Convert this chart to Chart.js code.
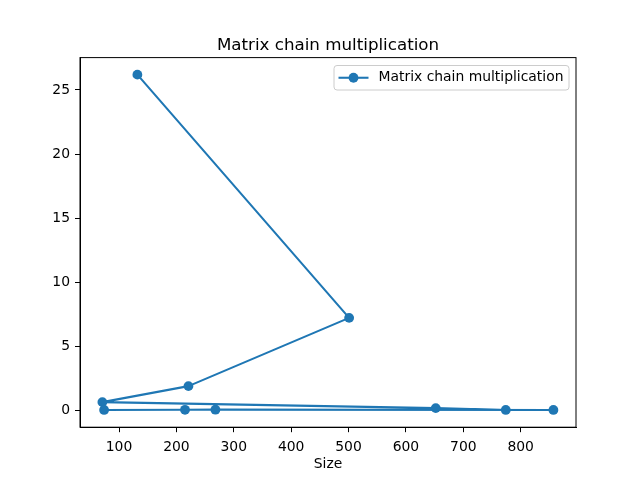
<!DOCTYPE html>
<html>
<head>
<meta charset="utf-8">
<style>
  html, body { margin: 0; padding: 0; background: #fff; }
  #wrap { width: 640px; height: 480px; position: relative; }
</style>
<script src="https://cdn.jsdelivr.net/npm/chart.js@4/dist/chart.umd.min.js"></script>
</head>
<body>
<div id="wrap"><canvas id="c" width="640" height="480"></canvas></div>
<script>
const chartTitle = "Matrix chain multiplication";
const seriesLabel = "Matrix chain multiplication";
const xLabel = "Size";
const sizes = [132, 501, 221, 71, 652, 774, 857, 268, 215, 74];
const times = [26.2, 7.2, 1.87, 0.62, 0.15, 0.01, 0.01, 0.03, 0.02, 0.01];
const xTicks = [100, 200, 300, 400, 500, 600, 700, 800];
const yTicks = [0, 5, 10, 15, 20, 25];

const COLOR = '#1f77b4';
const FONT = 'DejaVu Sans';

const points = sizes.map((s, i) => ({ x: s, y: times[i] }));

const decor = {
  id: 'decor',
  afterDraw(chart) {
    const ctx = chart.ctx;
    const a = chart.chartArea;
    ctx.save();
    // spines
    ctx.strokeStyle = '#000';
    ctx.lineWidth = 1;
    ctx.strokeRect(a.left, a.top, a.right - a.left, a.bottom - a.top);
    // title
    ctx.fillStyle = '#000';
    ctx.font = '16.7px "' + FONT + '"';
    ctx.textAlign = 'center';
    ctx.textBaseline = 'alphabetic';
    ctx.fillText(chartTitle, (a.left + a.right) / 2, 49.5);
    // x label
    ctx.font = '13.9px "' + FONT + '"';
    ctx.textBaseline = 'top';
    ctx.fillText(xLabel, (a.left + a.right) / 2, 457);
    // legend
    const bx = 334, by = 65.5, bw = 235, bh = 24.5, r = 3;
    ctx.beginPath();
    ctx.moveTo(bx + r, by);
    ctx.arcTo(bx + bw, by, bx + bw, by + bh, r);
    ctx.arcTo(bx + bw, by + bh, bx, by + bh, r);
    ctx.arcTo(bx, by + bh, bx, by, r);
    ctx.arcTo(bx, by, bx + bw, by, r);
    ctx.closePath();
    ctx.fillStyle = 'rgba(255,255,255,0.8)';
    ctx.fill();
    ctx.strokeStyle = '#cccccc';
    ctx.lineWidth = 1;
    ctx.stroke();
    const ly = by + bh / 2;
    ctx.strokeStyle = COLOR;
    ctx.lineWidth = 2.08;
    ctx.beginPath();
    ctx.moveTo(338.5, ly);
    ctx.lineTo(368.5, ly);
    ctx.stroke();
    ctx.fillStyle = COLOR;
    ctx.beginPath();
    ctx.arc(353.5, ly, 4.9, 0, Math.PI * 2);
    ctx.fill();
    ctx.fillStyle = '#000';
    ctx.font = '13.9px "' + FONT + '"';
    ctx.textAlign = 'left';
    ctx.textBaseline = 'middle';
    ctx.fillText(seriesLabel, 378.5, ly);
    ctx.restore();
  }
};

new Chart(document.getElementById('c'), {
  type: 'line',
  data: {
    datasets: [{
      label: seriesLabel,
      data: points,
      borderColor: COLOR,
      backgroundColor: COLOR,
      borderWidth: 2.08,
      borderJoinStyle: 'round',
      borderCapStyle: 'round',
      pointRadius: 4.9,
      pointHoverRadius: 4.9,
      pointBorderWidth: 0,
      pointBackgroundColor: COLOR,
      tension: 0,
      fill: false
    }]
  },
  options: {
    responsive: false,
    animation: false,
    devicePixelRatio: 1,
    layout: { padding: { top: 57.6, right: 64, left: 0, bottom: 0 } },
    plugins: { legend: { display: false }, title: { display: false }, tooltip: { enabled: false } },
    scales: {
      x: {
        type: 'linear',
        min: 32.0,
        max: 896.4,
        afterFit(scale) { scale.height = 52.8; },
        afterBuildTicks(scale) { scale.ticks = xTicks.map(v => ({ value: v })); },
        grid: { drawOnChartArea: false, drawTicks: true, tickLength: 5, color: '#000', tickWidth: 1 },
        border: { display: true, color: '#000', width: 1 },
        ticks: { color: '#000', font: { family: FONT, size: 13.9 }, padding: 7, maxRotation: 0, autoSkip: false }
      },
      y: {
        type: 'linear',
        min: -1.34,
        max: 27.53,
        afterFit(scale) { scale.width = 80; },
        afterBuildTicks(scale) { scale.ticks = yTicks.map(v => ({ value: v })); },
        grid: { drawOnChartArea: false, drawTicks: true, tickLength: 5, color: '#000', tickWidth: 1 },
        border: { display: true, color: '#000', width: 1 },
        ticks: { color: '#000', font: { family: FONT, size: 13.9 }, padding: 5, autoSkip: false }
      }
    }
  },
  plugins: [decor]
});
</script>
</body>
</html>
